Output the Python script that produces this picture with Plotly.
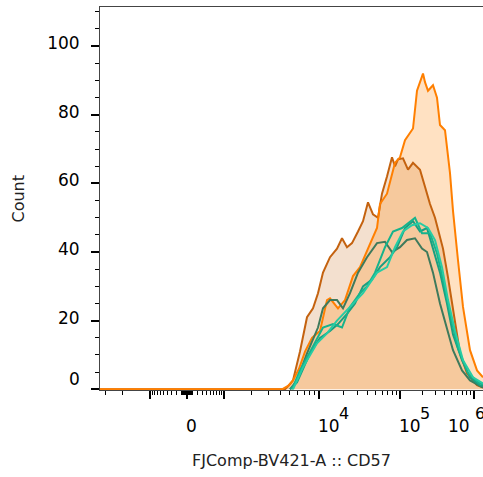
import numpy as np
import plotly.graph_objects as go

# ---------------- data (x in display channels across the axis, y = count) ----------------
# Orange sample (tallest peak)
A_X = [0, 182, 188, 193, 199, 205, 212, 220, 227, 230, 238, 245, 253, 260, 268, 277, 280, 287,
       295, 300, 305, 313, 317, 323, 325, 328, 333, 337, 340, 345, 350, 353, 358, 363, 370, 377, 383]
A_Y = [0, 0, 1, 2.6, 6, 11, 15, 17, 26, 26.5, 23.6, 26, 33, 35.6, 41, 47, 54, 57,
       66, 67.6, 72.6, 76, 87, 92, 89.5, 87, 88.6, 85, 77, 75.5, 63, 52, 37.6, 24, 11.4, 5.5, 3.5]

# Brown sample (shoulder)
B_X = [0, 185, 190, 193, 200, 207, 213, 218, 223, 230, 237, 242, 247, 252, 258, 263, 268, 273,
       278, 282, 287, 292, 295, 298, 303, 308, 313, 320, 325, 330, 335, 343, 348, 353, 360, 367, 377, 383]
B_Y = [0, 0, 1.5, 2.6, 11, 21, 23.6, 28, 34, 38.5, 41, 44, 41.4, 42.6, 46, 49, 54.5, 51,
       50, 57, 62, 67.6, 65, 67, 67.3, 64, 66, 64, 59, 54, 50, 41, 32.6, 23, 10.5, 4.7, 1.2, 0.5]

# Green / teal samples
G_X = [190, 197, 207, 212, 218, 223, 230, 237, 243, 250, 258, 267, 277, 285, 292, 300, 307,
       315, 322, 327, 333, 340, 347, 353, 362, 370, 383]
G_Y = [0, 2.6, 10.5, 14, 18, 23.6, 26, 26, 23.6, 28, 34, 38.5, 42.6, 43, 40, 41.4, 43.5,
       44, 41, 40, 34, 25, 18, 11.4, 5.5, 2.6, 0.5]

T1_X = [190, 197, 210, 220, 230, 238, 247, 255, 263, 272, 280, 290, 297, 305, 313, 320, 327,
        333, 340, 347, 353, 362, 370, 380, 383]
T1_Y = [0, 2, 10.5, 15, 17, 19, 22, 25, 30, 32, 35.6, 38.5, 41.4, 47, 49, 46, 47,
        41, 34, 25, 16, 8.5, 3.5, 1.2, 1]

T2_X = [192, 200, 212, 223, 233, 242, 250, 260, 267, 275, 285, 293, 302, 310, 315, 322, 330,
        337, 343, 350, 358, 368, 380, 383]
T2_Y = [0, 5.5, 12, 18, 19, 18, 24, 28, 30, 34, 41.4, 46, 47, 49, 50, 45.5, 45.5,
        39.6, 32, 22, 12, 4.7, 1.7, 1.5]

T3_X = [193, 203, 217, 227, 237, 247, 257, 263, 270, 277, 287, 295, 303, 312, 320, 328, 335,
        342, 348, 355, 363, 373, 383]
T3_Y = [0, 6.4, 13.4, 16.3, 20, 23, 26, 28, 31, 34, 35.6, 41.4, 46, 47.8, 48.4, 47, 43.5,
        35.6, 26, 17, 8.5, 3.5, 1.7]

# ---------------- biexponential display scale ----------------
X_RANGE = [0, 383]
Y_RANGE = [-0.2, 111.4]
BIEX_W = 400.0
DECADE_VALUES = [-1e3, 0, 1e3, 1e4, 1e5, 1e6]
DECADE_DISPLAY = [50, 87, 124, 219, 300, 374]
X_LABEL_VALUES = [0, 1e4, 1e5]
X_LABEL_BASE = ["0", "10", "10"]
X_LABEL_EXP = ["", "4", "5"]
X_LAST_BASE, X_LAST_EXP = "10", "6"
Y_MAJOR = [0, 20, 40, 60, 80, 100]


def to_display(v):
    u = np.arcsinh(np.asarray(v, float) / BIEX_W)
    ua = np.arcsinh(np.array(DECADE_VALUES) / BIEX_W)
    pa = np.array(DECADE_DISPLAY, float)
    out = np.interp(u, ua, pa)
    slope_lo = (pa[3] - pa[2]) / (ua[3] - ua[2])
    slope_hi = (pa[5] - pa[4]) / (ua[5] - ua[4])
    out = np.where(u < ua[0], pa[0] + (u - ua[0]) * slope_lo, out)
    out = np.where(u > ua[-1], pa[-1] + (u - ua[-1]) * slope_hi, out)
    return out


minor_vals = []
for n in range(1, 7):
    for k in range(1, 10):
        v = k * 10 ** n
        if v in DECADE_VALUES:
            continue
        minor_vals += [v, -v]
minor_disp = [float(p) for p in to_display(minor_vals) if X_RANGE[0] <= p <= X_RANGE[1]]
major_disp = [float(p) for p in to_display(DECADE_VALUES)]

FONT = "DejaVu Sans"
LBL = dict(family=FONT, size=17, color="#000")
SUP = dict(family=FONT, size=16, color="#000")

fig = go.Figure()

# fills (semi-transparent, overlapping regions darken)
fig.add_trace(go.Scatter(x=B_X, y=B_Y, mode="lines", line=dict(width=0, color="rgba(0,0,0,0)"),
                         fill="tozeroy", fillcolor="rgba(196,98,16,0.20)", hoverinfo="skip"))
fig.add_trace(go.Scatter(x=A_X, y=A_Y, mode="lines", line=dict(width=0, color="rgba(0,0,0,0)"),
                         fill="tozeroy", fillcolor="rgba(255,128,0,0.24)", hoverinfo="skip"))
# outlines
fig.add_trace(go.Scatter(x=B_X, y=B_Y, mode="lines", line=dict(width=2, color="#C4620F")))
fig.add_trace(go.Scatter(x=A_X, y=A_Y, mode="lines", line=dict(width=2, color="#FF7F00")))
for xs, ys, col in [(G_X, G_Y, "#3E7A5C"), (T1_X, T1_Y, "#1A9E80"),
                    (T2_X, T2_Y, "#16B38C"), (T3_X, T3_Y, "#26CCA4")]:
    fig.add_trace(go.Scatter(x=xs, y=ys, mode="lines", line=dict(width=2, color=col)))

LBL_Y = -0.125
annotations = []
for v, base, exp in zip(X_LABEL_VALUES, X_LABEL_BASE, X_LABEL_EXP):
    xd = float(to_display(v))
    annotations.append(dict(x=xd, y=LBL_Y, xref="x", yref="paper", text=base,
                            showarrow=False, xanchor="left", yanchor="bottom", xshift=-3,
                            font=LBL))
    if exp:
        annotations.append(dict(x=xd, y=LBL_Y, xref="x", yref="paper", text=exp,
                                showarrow=False, xanchor="left", yanchor="bottom",
                                xshift=18, yshift=13, font=SUP))
annotations.append(dict(x=1, y=LBL_Y, xref="paper", yref="paper", text=X_LAST_BASE,
                        showarrow=False, xanchor="right", yanchor="bottom", xshift=-11, font=LBL))
annotations.append(dict(x=1, y=LBL_Y, xref="paper", yref="paper", text=X_LAST_EXP,
                        showarrow=False, xanchor="left", yanchor="bottom", xshift=-10, yshift=13,
                        font=SUP))
annotations.append(dict(x=-0.047, y=3.0, xref="paper", yref="y", text="0", showarrow=False,
                        xanchor="right", yanchor="middle", font=LBL))
annotations.append(dict(x=0.5, y=-0.183, xref="paper", yref="paper", text="FJComp-BV421-A :: CD57",
                        showarrow=False, xanchor="center", yanchor="middle",
                        font=dict(family=FONT, size=16, color="#222")))
annotations.append(dict(x=-0.2115, y=0.5, xref="paper", yref="paper", text="Count", textangle=-90,
                        showarrow=False, xanchor="center", yanchor="middle",
                        font=dict(family=FONT, size=16, color="#222")))

fig.update_layout(
    width=483, height=477,
    margin=dict(l=100, r=0, t=7, b=87, autoexpand=False),
    paper_bgcolor="white", plot_bgcolor="white",
    showlegend=False,
    annotations=annotations,
    xaxis=dict(range=X_RANGE, showgrid=False, zeroline=False, showline=True, linecolor="#444",
               linewidth=1, mirror=True, ticks="outside", ticklen=8, tickwidth=2, tickcolor="#000",
               tickmode="array", tickvals=major_disp, showticklabels=False,
               minor=dict(tickmode="array", tickvals=minor_disp, ticks="outside", ticklen=4,
                          tickwidth=1, tickcolor="#000")),
    yaxis=dict(range=Y_RANGE, showgrid=False, zeroline=False, showline=True, linecolor="#444",
               linewidth=1, ticks="outside", ticklen=8, tickwidth=2, tickcolor="#000",
               tickmode="array", tickvals=Y_MAJOR, ticktext=[""] + [str(v) for v in Y_MAJOR[1:]],
               tickfont=LBL, ticklabelstandoff=8, ticklabelshift=-3,
               minor=dict(dtick=5, ticks="outside", ticklen=4, tickwidth=1, tickcolor="#000")),
)

fig.write_html("out.html", config={"displayModeBar": False},
               post_script="document.body.style.margin='0';")
